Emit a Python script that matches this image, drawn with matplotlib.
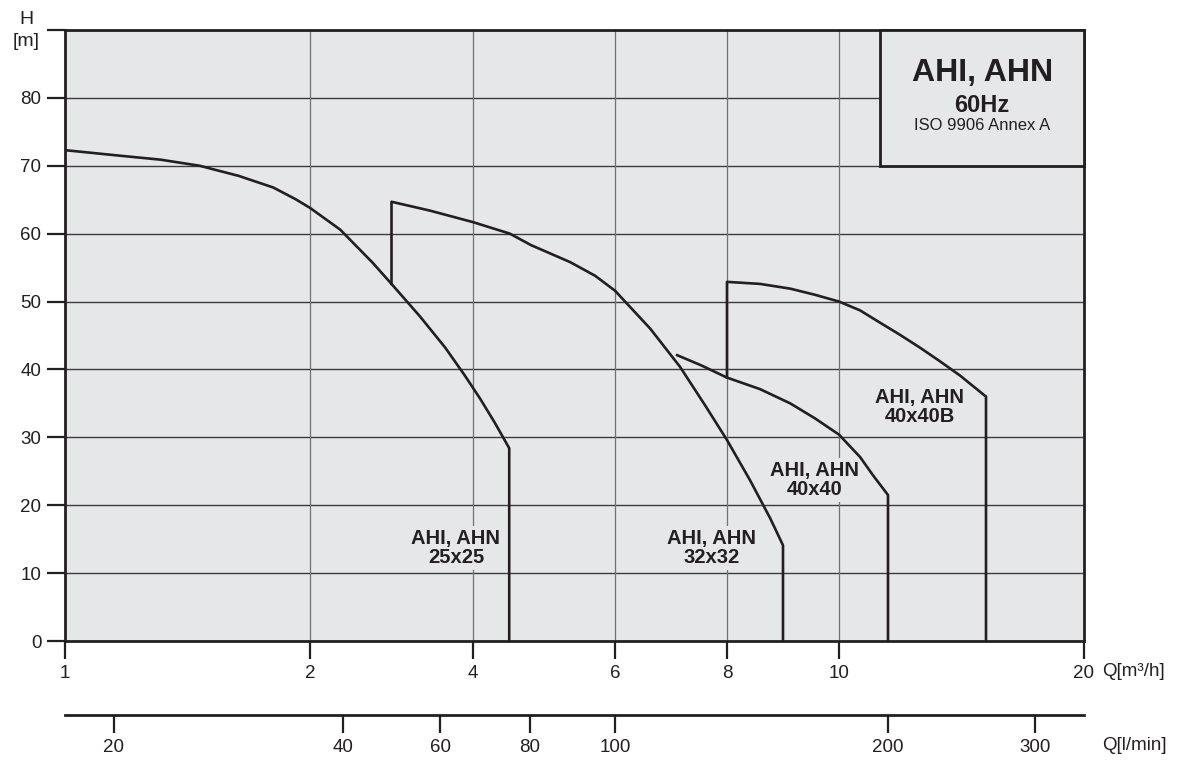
import numpy as np
import matplotlib
matplotlib.use("Agg")
from matplotlib import pyplot as plt
from matplotlib.patches import Rectangle

plt.rcParams["font.family"] = ["Liberation Sans", "DejaVu Sans"]

# pump curves, Q in m3/h, H in m
q_25 = [1.0, 1.22, 1.39, 1.55, 1.71, 1.85, 1.94, 2.0, 2.37, 2.77, 3.0,
        3.35, 3.66, 3.90, 4.10, 4.31, 4.51, 4.51]
h_25 = [72.3, 71.5, 70.9, 70.0, 68.5, 66.8, 65.1, 63.8, 60.6, 55.7, 52.6,
        47.8, 43.2, 39.1, 35.7, 32.1, 28.4, 0.0]

q_32 = [3.0, 3.0, 3.47, 4.0, 4.52, 4.82, 5.37, 5.72, 6.0, 6.63, 7.16, 7.61,
        8.0, 8.41, 8.77, 9.0, 9.0]
h_32 = [52.6, 64.7, 63.4, 61.7, 60.0, 58.3, 55.8, 53.8, 51.6, 46.0, 40.4, 34.7,
        29.6, 23.7, 18.1, 14.1, 0.0]

q_40 = [7.11, 7.54, 8.0, 8.59, 9.13, 9.57, 10.0, 10.86, 11.39, 12.0, 12.0]
h_40 = [42.1, 40.6, 38.8, 37.1, 35.0, 32.8, 30.4, 27.1, 24.4, 21.5, 0.0]

q_40b = [8.0, 8.0, 8.59, 9.13, 9.57, 10.0, 10.86, 11.67, 12.49, 13.31, 14.12,
         14.94, 16.0, 16.0]
h_40b = [38.8, 52.9, 52.6, 51.9, 51.0, 50.0, 48.7, 46.9, 45.1, 43.2, 41.2,
         39.1, 36.0, 0.0]

q_ticks = [1, 2, 4, 6, 8, 10, 20]
h_ticks = [0, 10, 20, 30, 40, 50, 60, 70, 80, 90]
lmin_ticks = [20, 40, 60, 80, 100, 200, 300]

# the chart's Q axis is piecewise between its labelled ticks
q_span = [0, 245, 408, 550, 662, 774, 1019]


def fwd(q):
    return np.interp(q, q_ticks, q_span)


def inv(u):
    return np.interp(u, q_span, q_ticks)


BG = "#e6e7e8"
INK = "#231f20"
W, H = 1189, 763
BOLD = ["Liberation Sans Narrow", "Liberation Sans"]

fig = plt.figure(figsize=(W / 100, H / 100), dpi=100)
ax = fig.add_axes([65 / W, (H - 641) / H, 1019 / W, 611 / H])
ax.set_facecolor(BG)
ax.set_xscale("function", functions=(fwd, inv))
ax.set_xlim(1, 20)
ax.set_ylim(0, 90)

ax.set_xticks(q_ticks)
ax.set_xticklabels([str(q) for q in q_ticks])
ax.xaxis.set_minor_locator(matplotlib.ticker.NullLocator())
ax.set_yticks(h_ticks)
ax.set_yticklabels([str(h) for h in h_ticks[:-1]] + [""])
ax.tick_params(direction="out", length=13, width=1.6, color=INK,
               labelsize=13.5, labelcolor=INK, pad=4)

for s in ax.spines.values():
    s.set_linewidth(2.0)
    s.set_color(INK)

for h in h_ticks[1:-1]:
    ax.axhline(h, color="#3c3c3c", lw=1.0, zorder=1)
for q in q_ticks[1:-1]:
    ax.axvline(q, color="#727272", lw=0.9, zorder=1)

# title box
ax.add_patch(Rectangle((11.67, 70), 20 - 11.67, 20, facecolor=BG,
                       edgecolor=INK, lw=2.0, zorder=3, clip_on=False))
ax.text(15.84, 83.7, "AHI, AHN", ha="center", va="center", fontsize=23,
        fontweight="bold", family=BOLD, color=INK, zorder=4)
ax.text(15.84, 78.9, "60Hz", ha="center", va="center", fontsize=17,
        fontweight="bold", family=BOLD, color=INK, zorder=4)
ax.text(15.84, 76.0, "ISO 9906 Annex A", ha="center", va="center",
        fontsize=12, color=INK, zorder=4)

for q, h in [(q_25, h_25), (q_32, h_32), (q_40, h_40), (q_40b, h_40b)]:
    ax.plot(q, h, color=INK, lw=1.9, solid_joinstyle="round", zorder=5)

labels = [(3.79, 13.7, "AHI, AHN\n25x25"), (7.73, 13.7, "AHI, AHN\n32x32"),
          (9.57, 23.7, "AHI, AHN\n40x40"), (13.3, 34.4, "AHI, AHN\n40x40B")]
for x, y, t in labels:
    ax.text(x, y, t, ha="center", va="center", fontsize=14.5, fontweight="bold",
            family=BOLD, color=INK, linespacing=1.0, zorder=4,
            bbox=dict(facecolor=BG, edgecolor="none", pad=2))

# l/min axis below
ax2 = fig.add_axes([65 / W, (H - 715) / H, 1019 / W, 0.0001])
ax2.set_xscale("function", functions=(fwd, inv))
ax2.set_xlim(1, 20)
ax2.patch.set_visible(False)
for k in ["top", "left", "right"]:
    ax2.spines[k].set_visible(False)
ax2.spines["bottom"].set_linewidth(2.0)
ax2.spines["bottom"].set_color(INK)
ax2.set_yticks([])
ax2.set_xticks([v * 3 / 50 for v in lmin_ticks])
ax2.set_xticklabels([str(v) for v in lmin_ticks])
ax2.xaxis.set_minor_locator(matplotlib.ticker.NullLocator())
ax2.tick_params(direction="out", length=13, width=1.6, color=INK,
                labelsize=13.5, labelcolor=INK, pad=4)

fig.text(26 / W, 1 - 20 / H, "H", ha="center", va="center", fontsize=14, color=INK)
fig.text(26 / W, 1 - 42 / H, "[m]", ha="center", va="center", fontsize=14, color=INK)
fig.text(1102 / W, 1 - 672 / H, "Q[m³/h]", ha="left", va="center", fontsize=13.5, color=INK)
fig.text(1102 / W, 1 - 745 / H, "Q[l/min]", ha="left", va="center", fontsize=13.5, color=INK)

fig.savefig("out.png", dpi=100)
